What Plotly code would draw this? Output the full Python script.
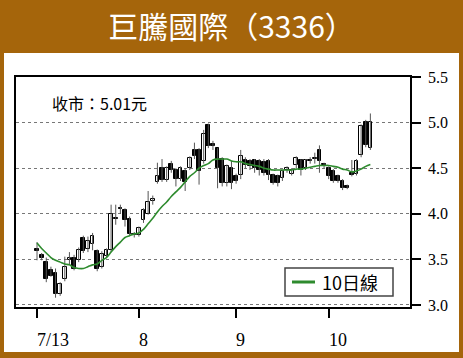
import plotly.graph_objects as go

# Daily candles (trading-day index)
day_idx = list(range(73))
opens = [3.61, 3.55, 3.47, 3.38, 3.35, 3.12, 3.28, 3.49, 3.51, 3.49,
         3.73, 3.61, 3.67, 3.59, 3.42, 3.54, 3.60, 3.95, 4.06, 4.04,
         3.94, 3.78, 3.77, 3.93, 4.00, 4.14, 4.35, 4.50, 4.37, 4.55,
         4.48, 4.38, 4.47, 4.50, 4.70, 4.70, 4.58, 4.97, 4.77, 4.72,
         4.60, 4.34, 4.50, 4.41, 4.43, 4.59, 4.58, 4.59, 4.58, 4.57,
         4.58, 4.42, 4.41, 4.39, 4.48, 4.44, 4.53, 4.59, 4.50, 4.58,
         4.60, 4.70, 4.54, 4.50, 4.47, 4.41, 4.36, 4.31, 4.45, 4.44,
         4.64, 5.01, 4.72]
highs = [3.69, 3.57, 3.52, 3.42, 3.40, 3.25, 3.53, 3.58, 3.55, 3.63,
         3.76, 3.75, 3.79, 3.61, 3.59, 3.62, 4.10, 4.10, 4.10, 4.06,
         3.97, 3.80, 3.86, 4.06, 4.25, 4.20, 4.56, 4.60, 4.52, 4.58,
         4.50, 4.52, 4.50, 4.63, 4.78, 4.72, 4.92, 4.99, 4.80, 4.72,
         4.62, 4.54, 4.58, 4.44, 4.70, 4.62, 4.60, 4.60, 4.60, 4.60,
         4.60, 4.44, 4.43, 4.48, 4.52, 4.50, 4.63, 4.60, 4.60, 4.62,
         4.67, 4.75, 4.56, 4.52, 4.49, 4.43, 4.38, 4.32, 4.59, 4.60,
         4.98, 5.03, 5.10]
lows = [3.49, 3.49, 3.25, 3.31, 3.08, 3.10, 3.26, 3.45, 3.38, 3.47,
        3.57, 3.58, 3.60, 3.37, 3.40, 3.52, 3.58, 3.88, 4.00, 3.86,
        3.76, 3.74, 3.75, 3.90, 3.99, 4.10, 4.33, 4.35, 4.35, 4.45,
        4.30, 4.36, 4.25, 4.48, 4.60, 4.32, 4.55, 4.72, 4.70, 4.28,
        4.30, 4.30, 4.27, 4.33, 4.38, 4.50, 4.48, 4.45, 4.42, 4.42,
        4.37, 4.32, 4.30, 4.36, 4.45, 4.42, 4.50, 4.42, 4.48, 4.55,
        4.55, 4.45, 4.50, 4.38, 4.34, 4.34, 4.26, 4.27, 4.41, 4.42,
        4.62, 4.73, 4.70]
closes = [3.59, 3.51, 3.28, 3.32, 3.12, 3.23, 3.42, 3.51, 3.40, 3.60,
          3.59, 3.70, 3.76, 3.40, 3.56, 3.60, 4.00, 3.94, 4.05, 3.93,
          3.78, 3.77, 3.84, 4.04, 4.13, 4.16, 4.41, 4.37, 4.50, 4.48,
          4.38, 4.50, 4.35, 4.61, 4.63, 4.47, 4.88, 4.74, 4.74, 4.50,
          4.34, 4.52, 4.34, 4.36, 4.63, 4.53, 4.52, 4.50, 4.48, 4.45,
          4.42, 4.34, 4.34, 4.47, 4.50, 4.48, 4.61, 4.48, 4.59, 4.59,
          4.61, 4.58, 4.53, 4.41, 4.36, 4.36, 4.28, 4.28, 4.43, 4.58,
          4.96, 4.75, 5.01]
ma10 = [3.68, 3.62, 3.57, 3.52, 3.49, 3.47, 3.45, 3.44, 3.41, 3.40,
        3.40, 3.42, 3.44, 3.45, 3.49, 3.52, 3.58, 3.64, 3.69, 3.74,
        3.76, 3.78, 3.79, 3.83, 3.89, 3.95, 4.02, 4.08, 4.13, 4.19,
        4.24, 4.29, 4.35, 4.41, 4.45, 4.50, 4.53, 4.55, 4.59, 4.60,
        4.60, 4.60, 4.58, 4.57, 4.57, 4.55, 4.54, 4.53, 4.52, 4.50,
        4.49, 4.48, 4.48, 4.48, 4.48, 4.48, 4.49, 4.49, 4.50, 4.51,
        4.52, 4.53, 4.53, 4.53, 4.52, 4.51, 4.49, 4.48, 4.46, 4.47,
        4.49, 4.52, 4.54]

x_tick_pos = [0, 22, 43, 63]
x_tick_labels = ["7/13", "8", "9", "10"]
y_tick_vals = [3.0, 3.5, 4.0, 4.5, 5.0, 5.5]
y_tick_labels = ["3.0", "3.5", "4.0", "4.5", "5.0", "5.5"]

title_text = "巨騰國際（3336）"
close_text = "收市：5.01元"
ma_name = "10日線"

BROWN = "#A5650B"
CJK = "Noto Sans CJK TC"
SERIF = "Liberation Serif"

# derived drawing data for candles
wick_x, wick_y = [], []
for i, h, l in zip(day_idx, highs, lows):
    wick_x += [i, i, None]
    wick_y += [l, h, None]
body_base = [min(o, c) for o, c in zip(opens, closes)]
body_len = [max(abs(c - o), 0.012) for o, c in zip(opens, closes)]
body_fill = ["white" if c >= o else "black" for o, c in zip(opens, closes)]

fig = go.Figure()
fig.add_trace(go.Scatter(x=wick_x, y=wick_y, mode="lines",
                         line=dict(color="#555555", width=1),
                         showlegend=False, hoverinfo="skip"))
fig.add_trace(go.Bar(x=day_idx, y=body_len, base=body_base, width=0.8,
                     marker=dict(color=body_fill,
                                 line=dict(color="black", width=1)),
                     showlegend=False, hoverinfo="skip"))
fig.add_trace(go.Scatter(x=day_idx, y=ma10, mode="lines", name=ma_name,
                         line=dict(color="#2E8B2E", width=1.6, shape="spline"),
                         showlegend=False))

def px_x(p):
    return (p - 16) / 394.0

def px_y(p):
    return (307 - p) / 230.0

shapes = [
    # white inner panel on brown background
    dict(type="rect", xref="paper", yref="paper",
         x0=px_x(4), x1=px_x(459), y0=px_y(352), y1=px_y(53),
         fillcolor="white", line=dict(width=0), layer="below"),
    # legend box
    dict(type="rect", xref="paper", yref="paper",
         x0=px_x(285), x1=px_x(393), y0=px_y(296), y1=px_y(268),
         fillcolor="white", line=dict(color="#444444", width=1.5)),
    dict(type="line", xref="paper", yref="paper",
         x0=px_x(292), x1=px_x(315), y0=px_y(282), y1=px_y(282),
         line=dict(color="#2E8B2E", width=3)),
]

annotations = [
    dict(text=close_text, xref="paper", yref="paper",
         x=px_x(50), y=px_y(103), xanchor="left", yanchor="middle",
         showarrow=False, font=dict(family=CJK, size=16, color="black")),
    dict(text=ma_name, xref="paper", yref="paper",
         x=px_x(320), y=px_y(282), xanchor="left", yanchor="middle",
         showarrow=False, font=dict(family=CJK, size=18, color="black")),
]
for pos, lab in zip(x_tick_pos, x_tick_labels):
    annotations.append(dict(text=lab, xref="x", yref="paper", x=pos,
                            y=px_y(340), xanchor="left", yanchor="middle",
                            showarrow=False, xshift=-2,
                            font=dict(family=SERIF, size=18, color="black")))

fig.update_layout(
    width=463, height=358,
    margin=dict(l=16, r=53, t=77, b=51),
    paper_bgcolor=BROWN, plot_bgcolor="white",
    bargap=0,
    title=dict(text=title_text, x=0.5, xref="container", xanchor="center",
               y=1 - 27 / 358, yref="container", yanchor="middle",
               font=dict(family=CJK, size=30, color="white")),
    xaxis=dict(range=[-4.54, 80.56],
               tickvals=x_tick_pos, ticktext=x_tick_labels,
               showticklabels=False,
               ticks="outside", ticklen=9, tickwidth=2, tickcolor="black",
               showline=True, linecolor="black", linewidth=1.5, mirror=True,
               showgrid=False, zeroline=False),
    yaxis=dict(range=[2.978, 5.5], side="right",
               tickvals=y_tick_vals, ticktext=y_tick_labels,
               ticks="outside", ticklen=9, tickwidth=2, tickcolor="black",
               ticklabelstandoff=4,
               showline=True, linecolor="black", linewidth=1.5, mirror=True,
               showgrid=True, gridcolor="#777777", griddash="dot", gridwidth=1,
               zeroline=False,
               tickfont=dict(family=SERIF, size=16, color="black")),
    showlegend=False,
    shapes=shapes,
    annotations=annotations,
)

fig.write_html("out.html",
               config={"displayModeBar": False},
               post_script="document.body.style.margin='0';"
                           "document.body.style.overflow='hidden';")
